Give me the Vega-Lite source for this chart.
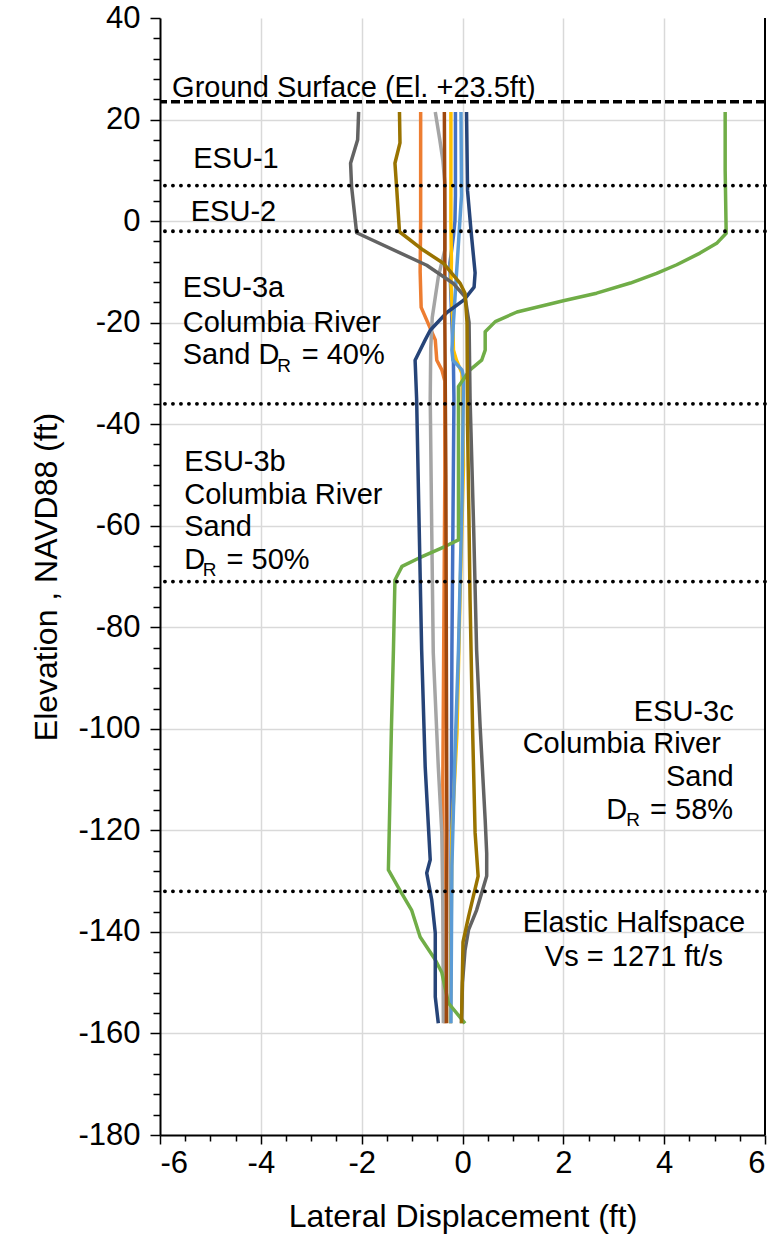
{
  "$schema": "https://vega.github.io/schema/vega-lite/v6.json",
  "width": 605,
  "height": 1117,
  "autosize": "none",
  "padding": {"left": 160, "top": 18, "right": 18, "bottom": 101},
  "background": "white",
  "config": {
    "view": {"stroke": null},
    "font": "Liberation Sans",
    "axis": {"labelFont": "Liberation Sans", "titleFont": "Liberation Sans", "labelColor": "black", "titleColor": "black", "titleFontWeight": "normal"},
    "text": {"font": "Liberation Sans", "fontSize": 29, "color": "black"}
  },
  "datasets": {
    "curves": [
      {"series": "Case 1", "x": -0.14, "y": 21.5}, {"series": "Case 1", "x": -0.14, "y": 5}, {"series": "Case 1", "x": -0.15, "y": 0}, {"series": "Case 1", "x": -0.18, "y": -3}, {"series": "Case 1", "x": -0.25, "y": -8.3}, {"series": "Case 1", "x": -0.24, "y": -12}, {"series": "Case 1", "x": -0.21, "y": -20}, {"series": "Case 1", "x": -0.18, "y": -28}, {"series": "Case 1", "x": -0.17, "y": -35}, {"series": "Case 1", "x": -0.19, "y": -60}, {"series": "Case 1", "x": -0.21, "y": -84.5}, {"series": "Case 1", "x": -0.22, "y": -110}, {"series": "Case 1", "x": -0.23, "y": -135}, {"series": "Case 1", "x": -0.24, "y": -158},

      {"series": "Case 2", "x": -0.83, "y": 21.5}, {"series": "Case 2", "x": -0.83, "y": 0}, {"series": "Case 2", "x": -0.84, "y": -10}, {"series": "Case 2", "x": -0.82, "y": -17}, {"series": "Case 2", "x": -0.71, "y": -19.5}, {"series": "Case 2", "x": -0.54, "y": -23.4}, {"series": "Case 2", "x": -0.51, "y": -27.4}, {"series": "Case 2", "x": -0.41, "y": -29.3}, {"series": "Case 2", "x": -0.35, "y": -31.5}, {"series": "Case 2", "x": -0.35, "y": -50}, {"series": "Case 2", "x": -0.37, "y": -80}, {"series": "Case 2", "x": -0.39, "y": -110}, {"series": "Case 2", "x": -0.38, "y": -135}, {"series": "Case 2", "x": -0.35, "y": -158},

      {"series": "Case 3", "x": -0.54, "y": 21.5}, {"series": "Case 3", "x": -0.45, "y": 16}, {"series": "Case 3", "x": -0.39, "y": 12}, {"series": "Case 3", "x": -0.35, "y": 7.5}, {"series": "Case 3", "x": -0.35, "y": -5.7}, {"series": "Case 3", "x": -0.48, "y": -11}, {"series": "Case 3", "x": -0.54, "y": -15}, {"series": "Case 3", "x": -0.6, "y": -19}, {"series": "Case 3", "x": -0.63, "y": -25}, {"series": "Case 3", "x": -0.64, "y": -35}, {"series": "Case 3", "x": -0.61, "y": -61}, {"series": "Case 3", "x": -0.58, "y": -85}, {"series": "Case 3", "x": -0.48, "y": -107.5}, {"series": "Case 3", "x": -0.41, "y": -120.5}, {"series": "Case 3", "x": -0.39, "y": -135}, {"series": "Case 3", "x": -0.38, "y": -158},

      {"series": "Case 4", "x": -0.23, "y": 21.5}, {"series": "Case 4", "x": -0.23, "y": 0}, {"series": "Case 4", "x": -0.22, "y": -8}, {"series": "Case 4", "x": -0.23, "y": -12.2}, {"series": "Case 4", "x": -0.19, "y": -20}, {"series": "Case 4", "x": -0.18, "y": -25.4}, {"series": "Case 4", "x": -0.12, "y": -27.4}, {"series": "Case 4", "x": -0.01, "y": -30}, {"series": "Case 4", "x": 0.02, "y": -48}, {"series": "Case 4", "x": -0.05, "y": -74.6}, {"series": "Case 4", "x": -0.11, "y": -100.8}, {"series": "Case 4", "x": -0.21, "y": -120.5}, {"series": "Case 4", "x": -0.24, "y": -158},

      {"series": "Case 5", "x": -0.03, "y": 21.5}, {"series": "Case 5", "x": -0.02, "y": 5}, {"series": "Case 5", "x": -0.08, "y": -4.4}, {"series": "Case 5", "x": -0.13, "y": -12}, {"series": "Case 5", "x": -0.18, "y": -20}, {"series": "Case 5", "x": -0.21, "y": -25.4}, {"series": "Case 5", "x": -0.19, "y": -27.4}, {"series": "Case 5", "x": -0.01, "y": -29.3}, {"series": "Case 5", "x": 0.02, "y": -30.7}, {"series": "Case 5", "x": -0.01, "y": -55}, {"series": "Case 5", "x": -0.08, "y": -84.5}, {"series": "Case 5", "x": -0.15, "y": -105}, {"series": "Case 5", "x": -0.21, "y": -127}, {"series": "Case 5", "x": -0.23, "y": -158},

      {"series": "Case 6", "x": 5.21, "y": 21.5}, {"series": "Case 6", "x": 5.21, "y": 10}, {"series": "Case 6", "x": 5.23, "y": -2.4}, {"series": "Case 6", "x": 5.05, "y": -4.3}, {"series": "Case 6", "x": 4.71, "y": -6.3}, {"series": "Case 6", "x": 4.25, "y": -8.6}, {"series": "Case 6", "x": 3.85, "y": -10.3}, {"series": "Case 6", "x": 3.33, "y": -12.2}, {"series": "Case 6", "x": 2.66, "y": -14.2}, {"series": "Case 6", "x": 2.0, "y": -15.7}, {"series": "Case 6", "x": 1.08, "y": -17.9}, {"series": "Case 6", "x": 0.65, "y": -19.8}, {"series": "Case 6", "x": 0.45, "y": -21.8}, {"series": "Case 6", "x": 0.45, "y": -25.4}, {"series": "Case 6", "x": 0.38, "y": -27.4}, {"series": "Case 6", "x": 0.15, "y": -29.3}, {"series": "Case 6", "x": -0.08, "y": -32.6}, {"series": "Case 6", "x": -0.08, "y": -62.8}, {"series": "Case 6", "x": -0.35, "y": -64.1}, {"series": "Case 6", "x": -0.87, "y": -66.4}, {"series": "Case 6", "x": -1.2, "y": -68}, {"series": "Case 6", "x": -1.34, "y": -70.7}, {"series": "Case 6", "x": -1.37, "y": -84.5}, {"series": "Case 6", "x": -1.41, "y": -100}, {"series": "Case 6", "x": -1.47, "y": -127.8}, {"series": "Case 6", "x": -1.24, "y": -131.8}, {"series": "Case 6", "x": -1.01, "y": -135.7}, {"series": "Case 6", "x": -0.84, "y": -141}, {"series": "Case 6", "x": -0.54, "y": -145.5}, {"series": "Case 6", "x": -0.41, "y": -148}, {"series": "Case 6", "x": -0.28, "y": -154}, {"series": "Case 6", "x": 0.05, "y": -158},

      {"series": "Case 7", "x": 0.08, "y": 21.5}, {"series": "Case 7", "x": 0.1, "y": 6}, {"series": "Case 7", "x": 0.17, "y": -2}, {"series": "Case 7", "x": 0.25, "y": -10.2}, {"series": "Case 7", "x": 0.23, "y": -13}, {"series": "Case 7", "x": 0.03, "y": -15.5}, {"series": "Case 7", "x": -0.31, "y": -18}, {"series": "Case 7", "x": -0.64, "y": -21.5}, {"series": "Case 7", "x": -0.74, "y": -23.4}, {"series": "Case 7", "x": -0.94, "y": -27.4}, {"series": "Case 7", "x": -0.91, "y": -35}, {"series": "Case 7", "x": -0.87, "y": -55}, {"series": "Case 7", "x": -0.81, "y": -84.5}, {"series": "Case 7", "x": -0.74, "y": -107.5}, {"series": "Case 7", "x": -0.64, "y": -125.8}, {"series": "Case 7", "x": -0.71, "y": -128.4}, {"series": "Case 7", "x": -0.61, "y": -133.7}, {"series": "Case 7", "x": -0.54, "y": -140.2}, {"series": "Case 7", "x": -0.54, "y": -152.8}, {"series": "Case 7", "x": -0.48, "y": -158},

      {"series": "Case 8", "x": -0.36, "y": 21.5}, {"series": "Case 8", "x": -0.35, "y": 0}, {"series": "Case 8", "x": -0.35, "y": -20}, {"series": "Case 8", "x": -0.33, "y": -50}, {"series": "Case 8", "x": -0.32, "y": -85}, {"series": "Case 8", "x": -0.31, "y": -120}, {"series": "Case 8", "x": -0.32, "y": -158},

      {"series": "Case 9", "x": -2.06, "y": 21.5}, {"series": "Case 9", "x": -2.08, "y": 16}, {"series": "Case 9", "x": -2.22, "y": 11.4}, {"series": "Case 9", "x": -2.2, "y": 6.8}, {"series": "Case 9", "x": -2.1, "y": -2.3}, {"series": "Case 9", "x": -0.71, "y": -8.7}, {"series": "Case 9", "x": -0.18, "y": -12.3}, {"series": "Case 9", "x": 0.05, "y": -14.9}, {"series": "Case 9", "x": 0.13, "y": -20}, {"series": "Case 9", "x": 0.15, "y": -35}, {"series": "Case 9", "x": 0.22, "y": -60}, {"series": "Case 9", "x": 0.28, "y": -84.5}, {"series": "Case 9", "x": 0.35, "y": -99.6}, {"series": "Case 9", "x": 0.45, "y": -118}, {"series": "Case 9", "x": 0.48, "y": -124.5}, {"series": "Case 9", "x": 0.48, "y": -129}, {"series": "Case 9", "x": 0.28, "y": -135.7}, {"series": "Case 9", "x": 0.12, "y": -139.6}, {"series": "Case 9", "x": 0.05, "y": -143.6}, {"series": "Case 9", "x": 0.0, "y": -150}, {"series": "Case 9", "x": -0.02, "y": -158},

      {"series": "Case 10", "x": -1.25, "y": 21.5}, {"series": "Case 10", "x": -1.24, "y": 15.4}, {"series": "Case 10", "x": -1.34, "y": 11.4}, {"series": "Case 10", "x": -1.3, "y": 5.6}, {"series": "Case 10", "x": -1.25, "y": -2.1}, {"series": "Case 10", "x": -0.78, "y": -5.7}, {"series": "Case 10", "x": -0.38, "y": -8.3}, {"series": "Case 10", "x": -0.05, "y": -12.2}, {"series": "Case 10", "x": 0.05, "y": -14.2}, {"series": "Case 10", "x": 0.09, "y": -20}, {"series": "Case 10", "x": 0.1, "y": -40}, {"series": "Case 10", "x": 0.13, "y": -60}, {"series": "Case 10", "x": 0.15, "y": -74.6}, {"series": "Case 10", "x": 0.2, "y": -100}, {"series": "Case 10", "x": 0.25, "y": -120.5}, {"series": "Case 10", "x": 0.31, "y": -129}, {"series": "Case 10", "x": 0.12, "y": -137}, {"series": "Case 10", "x": 0.01, "y": -142}, {"series": "Case 10", "x": -0.02, "y": -158}
    ],
    "layerBounds": [{"y": 7}, {"y": -2}, {"y": -36}, {"y": -71}, {"y": -132}],
    "labelsLeft": [
      {"x": -5.76, "y": 26.2, "t": "Ground Surface (El. +23.5ft)"},
      {"x": -5.34, "y": 12.2, "t": "ESU-1"},
      {"x": -5.39, "y": 1.85, "t": "ESU-2"},
      {"x": -5.55, "y": -13.2, "t": "ESU-3a"},
      {"x": -5.55, "y": -20.1, "t": "Columbia River"},
      {"x": -5.55, "y": -26.4, "t": "Sand D"},
      {"x": -3.19, "y": -26.4, "t": "= 40%"},
      {"x": -5.52, "y": -47.4, "t": "ESU-3b"},
      {"x": -5.52, "y": -54, "t": "Columbia River"},
      {"x": -5.52, "y": -60.2, "t": "Sand"},
      {"x": -5.52, "y": -66.8, "t": "D"},
      {"x": -4.68, "y": -66.8, "t": "= 50%"},
      {"x": 2.85, "y": -116, "t": "D"},
      {"x": 3.72, "y": -116, "t": "= 58%"}
    ],
    "labelsRight": [
      {"x": 5.38, "y": -96.6, "t": "ESU-3c"},
      {"x": 5.125, "y": -102.9, "t": "Columbia River"},
      {"x": 5.38, "y": -109.4, "t": "Sand"}
    ],
    "labelsCenter": [
      {"x": 3.4, "y": -138.3, "t": "Elastic Halfspace"},
      {"x": 3.4, "y": -144.9, "t": "Vs = 1271 ft/s"}
    ],
    "labelsSub": [
      {"x": -3.673, "y": -28.5, "t": "R"},
      {"x": -5.15, "y": -68.7, "t": "R"},
      {"x": 3.246, "y": -118, "t": "R"}
    ]
  },
  "layer": [
    {
      "data": {"name": "labelsLeft"},
      "mark": {"type": "text", "align": "left", "baseline": "middle"},
      "encoding": {
        "x": {"field": "x", "type": "quantitative", "scale": {"domain": [-6, 6], "nice": false, "zero": false},
              "axis": {"orient": "bottom", "values": [-4, -2, 0, 2, 4], "grid": true, "gridColor": "#D9D9D9", "gridWidth": 1.5, "ticks": false, "labels": false, "domain": false, "title": null}},
        "y": {"field": "y", "type": "quantitative", "scale": {"domain": [-180, 40], "nice": false, "zero": false},
              "axis": {"orient": "left", "values": [-160, -140, -120, -100, -80, -60, -40, -20, 0, 20], "grid": true, "gridColor": "#D9D9D9", "gridWidth": 1.5, "ticks": false, "labels": false, "domain": false, "title": null}},
        "text": {"field": "t"}
      }
    },
    {
      "data": {"name": "labelsRight"},
      "mark": {"type": "text", "align": "right", "baseline": "middle"},
      "encoding": {
        "x": {"field": "x", "type": "quantitative", "axis": null},
        "y": {"field": "y", "type": "quantitative", "axis": null},
        "text": {"field": "t"}
      }
    },
    {
      "data": {"name": "labelsCenter"},
      "mark": {"type": "text", "align": "center", "baseline": "middle"},
      "encoding": {
        "x": {"field": "x", "type": "quantitative", "axis": null},
        "y": {"field": "y", "type": "quantitative", "axis": null},
        "text": {"field": "t"}
      }
    },
    {
      "data": {"name": "labelsSub"},
      "mark": {"type": "text", "align": "left", "baseline": "middle", "fontSize": 19},
      "encoding": {
        "x": {"field": "x", "type": "quantitative", "axis": null},
        "y": {"field": "y", "type": "quantitative", "axis": null},
        "text": {"field": "t"}
      }
    },
    {
      "data": {"name": "curves"},
      "mark": {"type": "line", "strokeWidth": 3.5, "strokeJoin": "round", "strokeCap": "butt"},
      "encoding": {
        "x": {"field": "x", "type": "quantitative",
              "axis": {"orient": "bottom", "values": [-6, -4, -2, 0, 2, 4, 6], "labelExpr": "'' + datum.value", "grid": false, "domainColor": "black", "domainWidth": 2, "tickColor": "black", "tickWidth": 1.5, "tickSize": 9, "labelFontSize": 31, "labelPadding": 4, "title": "Lateral Displacement (ft)", "titleFontSize": 32, "titlePadding": 23}},
        "y": {"field": "y", "type": "quantitative",
              "axis": {"orient": "left", "values": [-180, -160, -140, -120, -100, -80, -60, -40, -20, 0, 20, 40], "labelExpr": "'' + datum.value", "grid": false, "domainColor": "black", "domainWidth": 2, "tickColor": "black", "tickWidth": 1.5, "tickSize": 10, "labelFontSize": 31, "labelPadding": 10, "title": "Elevation , NAVD88 (ft)", "titleFontSize": 32, "titlePadding": 14}},
        "color": {"field": "series", "type": "nominal", "legend": null,
                  "scale": {"domain": ["Case 1", "Case 2", "Case 3", "Case 4", "Case 5", "Case 6", "Case 7", "Case 8", "Case 9", "Case 10"],
                            "range": ["#4472C4", "#ED7D31", "#A5A5A5", "#FFC000", "#5B9BD5", "#70AD47", "#264478", "#9E480E", "#636363", "#997300"]}},
        "order": {"field": "y", "type": "quantitative", "sort": "descending"}
      }
    },
    {
      "data": {"name": "layerBounds"},
      "mark": {"type": "rule", "color": "black", "strokeWidth": 3.8, "strokeDash": [0.1, 7.9], "strokeCap": "round"},
      "encoding": {
        "y": {"field": "y", "type": "quantitative",
              "axis": {"orient": "left", "values": [-176, -172, -168, -164, -156, -152, -148, -144, -136, -132, -128, -124, -116, -112, -108, -104, -96, -92, -88, -84, -76, -72, -68, -64, -56, -52, -48, -44, -36, -32, -28, -24, -16, -12, -8, -4, 4, 8, 12, 16, 24, 28, 32, 36], "grid": false, "labels": false, "domain": false, "tickColor": "black", "tickWidth": 1.5, "tickSize": 7, "title": null}}
      }
    },
    {
      "data": {"values": [{"y": 23.5}]},
      "mark": {"type": "rule", "color": "black", "strokeWidth": 3.5, "strokeDash": [9, 4]},
      "encoding": {
        "y": {"field": "y", "type": "quantitative", "axis": null}
      }
    },
    {
      "data": {"values": [{"x": 6}]},
      "mark": {"type": "rule", "color": "black", "strokeWidth": 2},
      "encoding": {
        "x": {"field": "x", "type": "quantitative",
              "axis": {"orient": "bottom", "values": [-5.5, -5, -4.5, -3.5, -3, -2.5, -1.5, -1, -0.5, 0.5, 1, 1.5, 2.5, 3, 3.5, 4.5, 5, 5.5], "grid": false, "labels": false, "domain": false, "tickColor": "black", "tickWidth": 1.5, "tickSize": 6, "title": null}}
      }
    }
  ],
  "resolve": {"axis": {"x": "independent", "y": "independent"}}
}
